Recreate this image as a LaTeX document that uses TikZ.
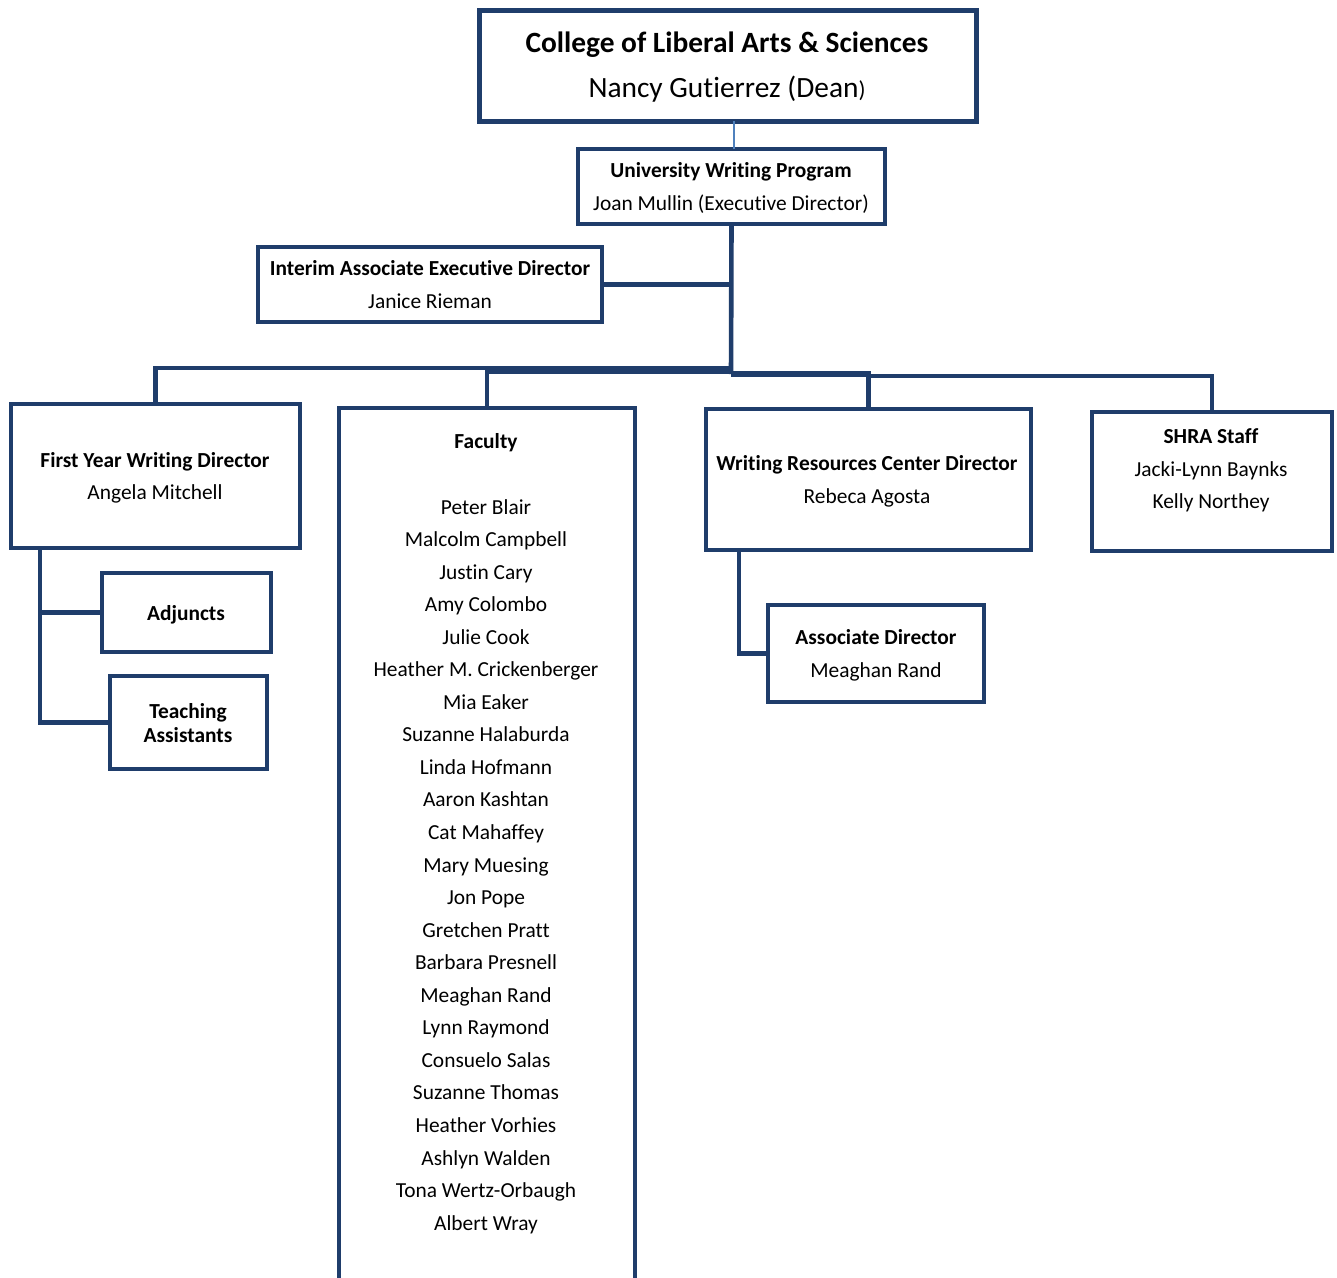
\documentclass[tikz,border=0pt]{standalone}
\usepackage{fontspec}
\setmainfont{Carlito}[Ligatures={NoCommon}]
\definecolor{navy}{HTML}{1F3D6B}
\definecolor{lblue}{HTML}{4F81BD}
\begin{document}
\begin{tikzpicture}[x=1pt,y=-1pt,
  box/.style={draw=navy, line width=4.6pt, fill=white, inner sep=0pt, outer sep=0pt, anchor=north west},
  conn/.style={draw=navy, line width=4.6pt},
  tb/.style={anchor=base, font=\fontsize{21.4}{25}\selectfont\bfseries, inner sep=0pt},
  tn/.style={anchor=base, font=\fontsize{21.4}{25}\selectfont, inner sep=0pt}]
\useasboundingbox[fill=white] (0,0) rectangle (1337,1277);

% boxes
\node[box, line width=5pt, minimum width=497pt, minimum height=111pt] (dean) at (479,10) {};
\node[box, minimum width=307pt, minimum height=75pt] (uwp) at (578,149) {};
\node[box, minimum width=344pt, minimum height=75pt] (iaed) at (258,247) {};
\node[box, minimum width=289pt, minimum height=144pt] (fyw) at (11,404) {};
\node[box, minimum width=296pt, minimum height=900pt] (fac) at (339,408) {};
\node[box, minimum width=325pt, minimum height=141pt] (wrc) at (706,409) {};
\node[box, minimum width=240pt, minimum height=139pt] (shra) at (1092,412) {};
\node[box, minimum width=169pt, minimum height=79pt] (adj) at (102,573) {};
\node[box, minimum width=157pt, minimum height=93pt] (ta) at (110,676) {};
\node[box, minimum width=216pt, minimum height=97pt] (assoc) at (768,605) {};

% connectors
\draw[draw=lblue, line width=1.2pt] (dean.south -| 734,0) -- (uwp.north -| 734,0);
\coordinate (h1) at (731,368);
\coordinate (h2) at (731,372);
\coordinate (h3) at (731,374);
\coordinate (h4) at (867,376);
\draw[conn] (uwp.south) -- (h3);
\draw[conn] (iaed.east) -- (iaed.east -| uwp.south);
\draw[conn] (fyw.north) |- (h1);
\draw[conn] (fac.north) |- (h2);
\draw[conn, line width=5.5pt] (wrc.north) |- (h3);
\draw[conn] (shra.north) |- (h4);
\coordinate (fyl) at (40,548);
\draw[conn] (fyl) |- (adj.west);
\draw[conn] (fyl) |- (ta.west);
\coordinate (wrcl) at (739,550);
\draw[conn] (wrcl) |- (assoc.west);

% texts
\node[anchor=base, inner sep=0pt, font=\fontsize{29.4}{34}\selectfont\bfseries] (deanA) at (727,52) {College of Liberal Arts \& Sciences};
\node[anchor=base, inner sep=0pt, font=\fontsize{29.4}{34}\selectfont] (deanB) at (727,97) {Nancy Gutierrez (Dean{\fontsize{23}{27}\selectfont )}};
\node[tb] (uwpA) at (731,177) {University Writing Program};
\node[tn] (uwpB) at (731,210) {Joan Mullin (Executive Director)};
\node[tb] (iaedA) at (430,275) {Interim Associate Executive Director};
\node[tn] (iaedB) at (430,308) {Janice Rieman};
\node[tb] (fywA) at (155,467) {First Year Writing Director};
\node[tn] (fywB) at (155,499) {Angela Mitchell};
\node[tb] (wrcA) at (867,470) {Writing Resources Center Director};
\node[tn] (wrcB) at (867,503) {Rebeca Agosta};
\node[tb] (shraA) at (1211,443) {SHRA Staff};
\node[tn] (shraB) at (1211,476) {Jacki-Lynn Baynks};
\node[tn] (shraC) at (1211,508) {Kelly Northey};
\node[tb] (adjA) at (186,620) {Adjuncts};
\node[tb] (taA) at (188,718) {Teaching};
\node[tb] (taB) at (188,742) {Assistants};
\node[tb] (assocA) at (876,644) {Associate Director};
\node[tn] (assocB) at (876,677) {Meaghan Rand};
\node[tb] (facA) at (486,448) {Faculty};
\foreach \n [count=\i from 0] in {Peter Blair, Malcolm Campbell, Justin Cary, Amy Colombo, Julie Cook, Heather M. Crickenberger, Mia Eaker, Suzanne Halaburda, Linda Hofmann, Aaron Kashtan, Cat Mahaffey, Mary Muesing, Jon Pope, Gretchen Pratt, Barbara Presnell, Meaghan Rand, Lynn Raymond, Consuelo Salas, Suzanne Thomas, Heather Vorhies, Ashlyn Walden, Tona Wertz-Orbaugh, Albert Wray}
  \node[tn] (fac\i) at (486,{514+32.55*\i}) {\n};
\end{tikzpicture}
\end{document}
